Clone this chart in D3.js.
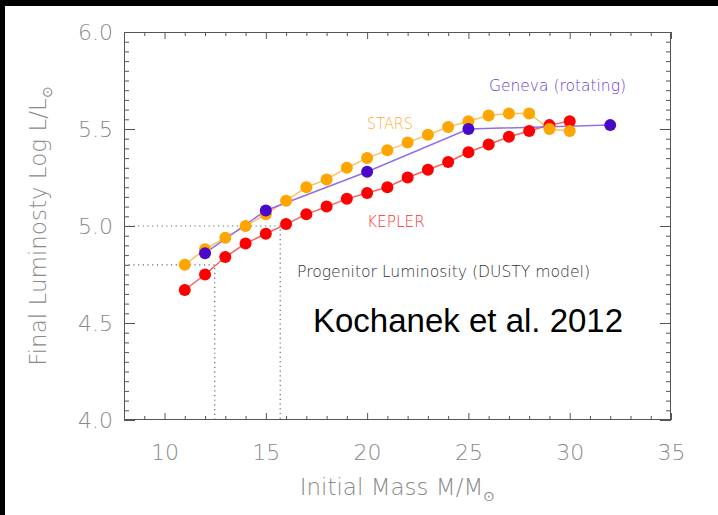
<!DOCTYPE html>
<html><head><meta charset="utf-8">
<script src="https://cdn.jsdelivr.net/npm/d3@7"></script>
<style>
html,body{margin:0;padding:0;background:#fff;}
svg{display:block;}
</style></head>
<body>
<script>
// ---- data ----
const starsMass = [11,12,13,14,15,16,17,18,19,20,21,22,23,24,25,26,27,28,29,30];
const starsLum  = [4.80,4.88,4.94,5.00,5.06,5.13,5.20,5.24,5.30,5.35,5.39,5.43,5.47,5.51,5.54,5.57,5.58,5.58,5.50,5.49];
const keplerMass = [11,12,13,14,15,16,17,18,19,20,21,22,23,24,25,26,27,28,29,30];
const keplerLum  = [4.67,4.75,4.84,4.91,4.96,5.01,5.06,5.10,5.14,5.17,5.20,5.25,5.29,5.33,5.38,5.42,5.46,5.49,5.52,5.54];
const genevaMass = [12,15,20,25,32];
const genevaLum  = [4.86,5.08,5.28,5.50,5.52];
const xTicks = [10,15,20,25,30,35];
const yTicks = [4.0,4.5,5.0,5.5,6.0];
const progenitorLum = [5.0, 4.8];
const progenitorMass = [15.71, 12.48];

const W = 718, H = 515;
const m = {left:124, top:32, right:671, bottom:420};
const svg = d3.select("body").append("svg").attr("width",W).attr("height",H);
svg.append("rect").attr("width",W).attr("height",H).attr("fill","#fff");
// black border strips
svg.append("rect").attr("x",0).attr("y",0).attr("width",W).attr("height",6).attr("fill","#000");
svg.append("rect").attr("x",0).attr("y",0).attr("width",5).attr("height",H).attr("fill","#000");

const x = d3.scaleLinear().domain([8,35]).range([m.left,m.right]);
const y = d3.scaleLinear().domain([4.0,6.0]).range([m.bottom,m.top]);

const axisCol = "#555", labCol = "#8a8a8a";
const tickFont = "'DejaVu Sans', sans-serif";

const xMinor = d3.range(8,35.01,1).filter(v=>!xTicks.includes(v));
const yMinor = d3.range(0,41).map(i=>+(4+i*0.05).toFixed(2)).filter(v=>!yTicks.includes(v));

function styleAxis(g){
  g.select(".domain").remove();
  g.selectAll("line").attr("stroke",axisCol).attr("stroke-width",1);
  g.selectAll("text").attr("fill",labCol).attr("font-family",tickFont)
    .attr("font-size",22).attr("font-weight",200);
}
// bottom
svg.append("g").attr("transform",`translate(0,${m.bottom})`)
  .call(d3.axisBottom(x).tickValues(xTicks).tickSize(-7).tickPadding(24).tickFormat(d3.format("d"))).call(styleAxis);
svg.append("g").attr("transform",`translate(0,${m.bottom})`)
  .call(d3.axisBottom(x).tickValues(xMinor).tickSize(-4).tickFormat("")).call(styleAxis);
// top
svg.append("g").attr("transform",`translate(0,${m.top})`)
  .call(d3.axisTop(x).tickValues(xTicks).tickSize(-7).tickFormat("")).call(styleAxis);
svg.append("g").attr("transform",`translate(0,${m.top})`)
  .call(d3.axisTop(x).tickValues(xMinor).tickSize(-4).tickFormat("")).call(styleAxis);
// left
svg.append("g").attr("transform",`translate(${m.left},0)`)
  .call(d3.axisLeft(y).tickValues(yTicks).tickSize(-11).tickPadding(11).tickFormat(d3.format(".1f"))).call(styleAxis);
svg.append("g").attr("transform",`translate(${m.left},0)`)
  .call(d3.axisLeft(y).tickValues(yMinor).tickSize(-5).tickFormat("")).call(styleAxis);
// right
svg.append("g").attr("transform",`translate(${m.right},0)`)
  .call(d3.axisRight(y).tickValues(yTicks).tickSize(-11).tickFormat("")).call(styleAxis);
svg.append("g").attr("transform",`translate(${m.right},0)`)
  .call(d3.axisRight(y).tickValues(yMinor).tickSize(-5).tickFormat("")).call(styleAxis);
// frame
svg.append("rect").attr("x",m.left+0.5).attr("y",m.top+0.5)
  .attr("width",m.right-m.left-1).attr("height",m.bottom-m.top-1)
  .attr("fill","none").attr("stroke",axisCol).attr("stroke-width",1);

// dotted progenitor lines
const dot = svg.append("g").attr("stroke","#666").attr("stroke-width",1.2).attr("stroke-dasharray","1.2,3.5").attr("fill","none");
progenitorLum.forEach((L,i)=>{
  const M = progenitorMass[i];
  dot.append("path").attr("d", d3.line()([[x(8),y(L)],[x(M),y(L)],[x(M),y(4.0)]]));
});

// series
const series = [
  {mass:keplerMass, lum:keplerLum, dot:"#ff0000", line:"#f56060"},
  {mass:starsMass, lum:starsLum, dot:"#ffa500", line:"#fbc060"},
  {mass:genevaMass, lum:genevaLum, dot:"#4a08c8", line:"#9070e8"}
];
const line = d3.line().x(d=>x(d[0])).y(d=>y(d[1]));
series.forEach(s=>{
  const pts = s.mass.map((v,i)=>[v,s.lum[i]]);
  svg.append("path").attr("d",line(pts)).attr("fill","none").attr("stroke",s.line).attr("stroke-width",1.5);
});
series.forEach(s=>{
  const pts = s.mass.map((v,i)=>[v,s.lum[i]]);
  svg.append("g").selectAll("circle").data(pts).join("circle")
    .attr("cx",d=>x(d[0])).attr("cy",d=>y(d[1])).attr("r",6).attr("fill",s.dot);
});

// labels
const lab = (t,xx,yy,col,len,fs)=>svg.append("text").attr("x",xx).attr("y",yy).attr("fill",col)
  .attr("font-family",tickFont).attr("font-size",fs).attr("font-weight",200)
  .attr("textLength",len).attr("lengthAdjust","spacingAndGlyphs").text(t);
lab("Geneva (rotating)",489,91,"#6a3cd6",137,15);
lab("STARS",367,129,"#ffaa30",46,15);
lab("KEPLER",367,227,"#ff3030",58,15);
lab("Progenitor Luminosity (DUSTY model)",297,277,"#333",293,15);

svg.append("text").attr("x",313).attr("y",332).attr("fill","#000")
  .attr("font-family","'Liberation Sans', Arial, sans-serif").attr("font-size",33)
  .text("Kochanek et al. 2012");

// axis titles
const xt = svg.append("text").attr("x",(m.left+m.right)/2).attr("y",495).attr("text-anchor","middle")
  .attr("fill",labCol).attr("font-family",tickFont).attr("font-size",23).attr("font-weight",200);
xt.append("tspan").text("Initial Mass M/M");
xt.append("tspan").attr("font-size",14).attr("dy",6).text("⊙");

const yt = svg.append("text").attr("transform",`translate(46,${(m.top+m.bottom)/2}) rotate(-90)`)
  .attr("text-anchor","middle").attr("fill",labCol).attr("font-family",tickFont).attr("font-size",23).attr("font-weight",200);
yt.append("tspan").text("Final Luminosty Log L/L");
yt.append("tspan").attr("font-size",14).attr("dy",6).text("⊙");
</script>
</body></html>
